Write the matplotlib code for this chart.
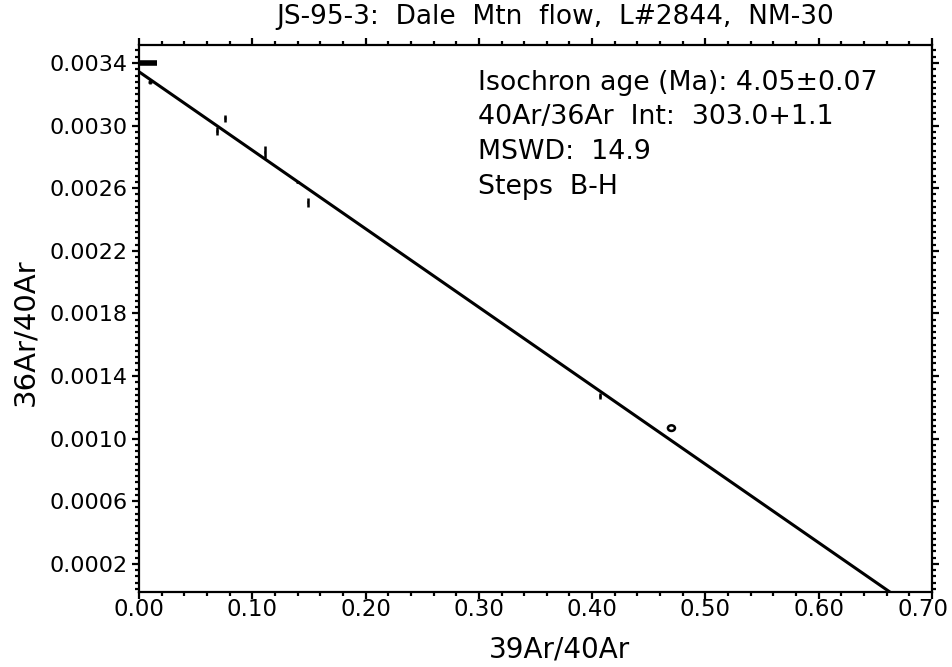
import matplotlib
matplotlib.use("Agg")
import matplotlib.pyplot as plt
from matplotlib.patches import Ellipse
from matplotlib.ticker import MultipleLocator, FormatStrFormatter
from matplotlib.transforms import ScaledTranslation

plt.rcParams['font.family'] = ['DejaVu Sans']

# ---- data ----
title = "JS-95-3:  Dale  Mtn  flow,  L#2844,  NM-30"
x_label = "39Ar/40Ar"
y_label = "36Ar/40Ar"
info_lines = ["Isochron age (Ma): 4.05\u00b10.07",
              "40Ar/36Ar  Int:  303.0+1.1",
              "MSWD:  14.9",
              "Steps  B-H"]

# step error crosses (x, y, x error, y error)
step_x = [0.008, 0.0097, 0.069, 0.0759, 0.111, 0.140, 0.149, 0.407]
step_y = [0.00340, 0.00328, 0.002966, 0.003046, 0.002832, 0.00264, 0.002509, 0.00127]
step_xerr = [0.008, 0.002, 0.0008, 0.0006, 0.0006, 0.0015, 0.0006, 0.001]
step_yerr = [0.000006, 0.000015, 0.000025, 0.000022, 0.00004, 0.000008, 0.00003, 0.00002]

# ellipse step
ell_x, ell_y = 0.470, 0.001067
ell_w, ell_h = 0.0062, 0.000036

# isochron fit
fit_y0 = 0.003344      # y at x=0
fit_x0 = 0.6668        # x at y=0

x_ticks = [0.0, 0.1, 0.2, 0.3, 0.4, 0.5, 0.6, 0.7]
y_ticks = [0.0002, 0.0006, 0.0010, 0.0014, 0.0018, 0.0022, 0.0026, 0.0030, 0.0034]

# ---- figure ----
fig = plt.figure(figsize=(9.53, 6.67), dpi=100)
ax = fig.add_axes([139/953, 1-592/667, (932-139)/953, (592-45)/667])

ax.set_xlim(0.0, 0.70)
ax.set_ylim(0.00002, 0.003515)

# fit line
ax.plot([0, fit_x0], [fit_y0, 0], color='black', lw=2.2, solid_capstyle='butt', zorder=3)

# first step drawn thicker
ax.errorbar(step_x[:1], step_y[:1], xerr=step_xerr[:1], yerr=step_yerr[:1],
            fmt='none', ecolor='black', elinewidth=4, capsize=0, zorder=4)
ax.errorbar(step_x[1:], step_y[1:], xerr=step_xerr[1:], yerr=step_yerr[1:],
            fmt='none', ecolor='black', elinewidth=1.8, capsize=0, zorder=4)

ax.add_patch(Ellipse((ell_x, ell_y), ell_w, ell_h, angle=0, fill=False,
                     edgecolor='black', lw=1.8, zorder=4))

ax.set_xticks(x_ticks)
ax.set_yticks(y_ticks)
ax.xaxis.set_major_formatter(FormatStrFormatter('%.2f'))
ax.yaxis.set_major_formatter(FormatStrFormatter('%.4f'))
ax.xaxis.set_minor_locator(MultipleLocator(0.02))
ax.yaxis.set_minor_locator(MultipleLocator(0.00004))

ax.tick_params(which='both', direction='out', top=True, right=True,
               labeltop=False, labelright=False, width=1.6, colors='black')
ax.tick_params(which='major', length=5, labelsize=16)
ax.tick_params(which='minor', length=3)
ax.tick_params(axis='y', which='major', pad=3.5)
ax.tick_params(axis='x', which='major', pad=-0.8, labelsize=16.5)

for s in ax.spines.values():
    s.set_linewidth(1.6)

ax.set_xlabel(x_label, fontsize=20)
ax.set_ylabel(y_label, fontsize=21)
ax.xaxis.set_label_coords((560-139)/793, -(650-592)/547)
ax.yaxis.set_label_coords(-(139-25)/793, (592-332)/547)
ax.xaxis.label.set_va('center')
ax.yaxis.label.set_va('center')

fig.text(555/953, 1-17/667, title, fontsize=19, ha='center', va='center')

for i, line in enumerate(info_lines):
    ax.text(0.4275, 1 - (83 + 34.5*i - 45)/547, line, transform=ax.transAxes,
            fontsize=19.3, ha='left', va='center')

# nudge last x tick label left so it stays inside the figure
fig.canvas.draw()
last = ax.get_xticklabels()[-1]
last.set_transform(last.get_transform() + ScaledTranslation(-9/100, 0, fig.dpi_scale_trans))

fig.savefig("out.png", dpi=100)
